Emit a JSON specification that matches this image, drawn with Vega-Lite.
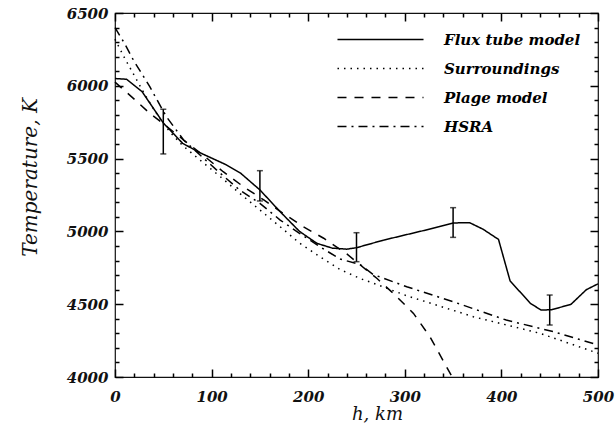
{
  "$schema": "https://vega.github.io/schema/vega-lite/v6.json",
  "autosize": "none",
  "width": 483,
  "height": 364,
  "padding": {"left": 115, "top": 13, "right": 18, "bottom": 53},
  "background": "white",
  "config": {
    "view": {"stroke": "#111", "strokeWidth": 1.2},
    "axis": {"grid": false, "domain": false, "labelColor": "#111", "titleColor": "#111"}
  },
  "datasets": {
    "curves": [
      {"s": "Flux tube model", "h": 0, "T": 6050}, {"s": "Flux tube model", "h": 12, "T": 6045},
      {"s": "Flux tube model", "h": 28, "T": 5960}, {"s": "Flux tube model", "h": 50, "T": 5745},
      {"s": "Flux tube model", "h": 70, "T": 5605}, {"s": "Flux tube model", "h": 88, "T": 5540},
      {"s": "Flux tube model", "h": 115, "T": 5458}, {"s": "Flux tube model", "h": 130, "T": 5400},
      {"s": "Flux tube model", "h": 150, "T": 5285}, {"s": "Flux tube model", "h": 171, "T": 5135},
      {"s": "Flux tube model", "h": 191, "T": 5000}, {"s": "Flux tube model", "h": 209, "T": 4918},
      {"s": "Flux tube model", "h": 225, "T": 4885}, {"s": "Flux tube model", "h": 240, "T": 4878},
      {"s": "Flux tube model", "h": 250, "T": 4888}, {"s": "Flux tube model", "h": 278, "T": 4940},
      {"s": "Flux tube model", "h": 319, "T": 5005}, {"s": "Flux tube model", "h": 350, "T": 5058},
      {"s": "Flux tube model", "h": 367, "T": 5060}, {"s": "Flux tube model", "h": 381, "T": 5015},
      {"s": "Flux tube model", "h": 397, "T": 4945}, {"s": "Flux tube model", "h": 409, "T": 4660},
      {"s": "Flux tube model", "h": 430, "T": 4506}, {"s": "Flux tube model", "h": 441, "T": 4460},
      {"s": "Flux tube model", "h": 452, "T": 4462}, {"s": "Flux tube model", "h": 472, "T": 4499},
      {"s": "Flux tube model", "h": 488, "T": 4600}, {"s": "Flux tube model", "h": 500, "T": 4640},

      {"s": "Surroundings", "h": 0, "T": 6320}, {"s": "Surroundings", "h": 10, "T": 6190},
      {"s": "Surroundings", "h": 20, "T": 6070}, {"s": "Surroundings", "h": 30, "T": 5950},
      {"s": "Surroundings", "h": 40, "T": 5840}, {"s": "Surroundings", "h": 50, "T": 5740},
      {"s": "Surroundings", "h": 60, "T": 5660}, {"s": "Surroundings", "h": 70, "T": 5590},
      {"s": "Surroundings", "h": 88, "T": 5490}, {"s": "Surroundings", "h": 109, "T": 5376},
      {"s": "Surroundings", "h": 129, "T": 5262}, {"s": "Surroundings", "h": 150, "T": 5147},
      {"s": "Surroundings", "h": 171, "T": 5032}, {"s": "Surroundings", "h": 191, "T": 4920},
      {"s": "Surroundings", "h": 212, "T": 4826}, {"s": "Surroundings", "h": 233, "T": 4738},
      {"s": "Surroundings", "h": 254, "T": 4676}, {"s": "Surroundings", "h": 267, "T": 4645},
      {"s": "Surroundings", "h": 302, "T": 4558}, {"s": "Surroundings", "h": 371, "T": 4414},
      {"s": "Surroundings", "h": 440, "T": 4300}, {"s": "Surroundings", "h": 500, "T": 4163},

      {"s": "Plage model", "h": 0, "T": 6025}, {"s": "Plage model", "h": 19, "T": 5914},
      {"s": "Plage model", "h": 36, "T": 5811}, {"s": "Plage model", "h": 54, "T": 5719},
      {"s": "Plage model", "h": 71, "T": 5628}, {"s": "Plage model", "h": 91, "T": 5525},
      {"s": "Plage model", "h": 112, "T": 5410}, {"s": "Plage model", "h": 133, "T": 5307},
      {"s": "Plage model", "h": 154, "T": 5216}, {"s": "Plage model", "h": 174, "T": 5124},
      {"s": "Plage model", "h": 195, "T": 5032}, {"s": "Plage model", "h": 216, "T": 4953},
      {"s": "Plage model", "h": 240, "T": 4845}, {"s": "Plage model", "h": 254, "T": 4769},
      {"s": "Plage model", "h": 271, "T": 4678}, {"s": "Plage model", "h": 288, "T": 4575},
      {"s": "Plage model", "h": 309, "T": 4437}, {"s": "Plage model", "h": 326, "T": 4277},
      {"s": "Plage model", "h": 349, "T": 4000},

      {"s": "HSRA", "h": 0, "T": 6400}, {"s": "HSRA", "h": 10, "T": 6290},
      {"s": "HSRA", "h": 19, "T": 6177}, {"s": "HSRA", "h": 36, "T": 5994},
      {"s": "HSRA", "h": 53, "T": 5790}, {"s": "HSRA", "h": 71, "T": 5628},
      {"s": "HSRA", "h": 88, "T": 5525}, {"s": "HSRA", "h": 109, "T": 5399},
      {"s": "HSRA", "h": 129, "T": 5284}, {"s": "HSRA", "h": 150, "T": 5193},
      {"s": "HSRA", "h": 171, "T": 5078}, {"s": "HSRA", "h": 191, "T": 4987},
      {"s": "HSRA", "h": 212, "T": 4895}, {"s": "HSRA", "h": 233, "T": 4810},
      {"s": "HSRA", "h": 254, "T": 4772}, {"s": "HSRA", "h": 267, "T": 4705},
      {"s": "HSRA", "h": 302, "T": 4620}, {"s": "HSRA", "h": 350, "T": 4517},
      {"s": "HSRA", "h": 405, "T": 4391}, {"s": "HSRA", "h": 454, "T": 4311},
      {"s": "HSRA", "h": 500, "T": 4220}
    ],
    "errors": [
      {"h": 50, "lo": 5532, "hi": 5839},
      {"h": 150, "lo": 5209, "hi": 5417},
      {"h": 250, "lo": 4792, "hi": 4991},
      {"h": 350, "lo": 4959, "hi": 5163},
      {"h": 450, "lo": 4357, "hi": 4563}
    ]
  },
  "resolve": {"axis": {"x": "independent", "y": "independent"}},
  "layer": [
    {
      "data": {"name": "curves"},
      "mark": {"type": "line", "color": "#000", "strokeWidth": 1.5},
      "encoding": {
        "x": {"field": "h", "type": "quantitative",
              "scale": {"domain": [0, 500], "nice": false, "zero": false},
              "axis": {"orient": "bottom", "values": [0, 100, 200, 300, 400, 500], "format": "d",
                       "offset": -8, "tickSize": 8, "tickColor": "black", "tickWidth": 1.5,
                       "labelPadding": 12, "labelFont": "DejaVu Serif", "labelFontSize": 15,
                       "labelFontStyle": "italic", "labelFontWeight": "bold", "labelFlush": false,
                       "title": "h, km", "titleFont": "DejaVu Serif", "titleFontSize": 18,
                       "titleFontStyle": "italic", "titleFontWeight": "normal",
                       "titleBaseline": "alphabetic", "titleX": 262, "titleY": 50}},
        "y": {"field": "T", "type": "quantitative",
              "scale": {"domain": [4000, 6500], "nice": false, "zero": false},
              "axis": {"orient": "left", "values": [4000, 4500, 5000, 5500, 6000, 6500], "format": "d",
                       "offset": -8, "tickSize": 8, "tickColor": "black", "tickWidth": 1.5,
                       "labelPadding": 7, "labelFont": "DejaVu Serif", "labelFontSize": 15,
                       "labelFontStyle": "italic", "labelFontWeight": "bold", "labelFlush": false,
                       "title": "Temperature, K", "titleFont": "DejaVu Serif", "titleFontSize": 20,
                       "titleFontStyle": "italic", "titleFontWeight": "normal",
                       "titleBaseline": "middle", "titleX": -93, "titleY": 164}},
        "strokeDash": {"field": "s", "type": "nominal",
                       "scale": {"domain": ["Flux tube model", "Surroundings", "Plage model", "HSRA"],
                                 "range": [[1, 0], [1.5, 5], [9, 8], [9, 5, 2, 5]]},
                       "legend": {"orient": "top-right", "offset": 17, "title": null,
                                  "symbolType": "M-5,0H5", "symbolSize": 296, "symbolStrokeWidth": 1.5,
                                  "symbolStrokeColor": "#000", "symbolFillColor": "transparent",
                                  "labelOffset": 54, "labelFontSize": 15, "labelFont": "DejaVu Serif",
                                  "labelFontStyle": "italic", "labelFontWeight": "bold", "labelColor": "#000",
                                  "rowPadding": 11, "padding": 0}}
      }
    },
    {
      "data": {"name": "errors"},
      "mark": {"type": "rule", "color": "#000", "strokeWidth": 1.5},
      "encoding": {
        "x": {"field": "h", "type": "quantitative",
              "scale": {"domain": [0, 500], "nice": false, "zero": false},
              "axis": {"orient": "bottom", "values": [20,40,60,80,120,140,160,180,220,240,260,280,320,340,360,380,420,440,460,480],
                       "offset": -4, "tickSize": 4, "tickColor": "black", "tickWidth": 1.5, "labels": false, "title": null}},
        "y": {"field": "lo", "type": "quantitative",
              "scale": {"domain": [4000, 6500], "nice": false, "zero": false},
              "axis": {"orient": "left", "values": [4100,4200,4300,4400,4600,4700,4800,4900,5100,5200,5300,5400,5600,5700,5800,5900,6100,6200,6300,6400],
                       "offset": -4, "tickSize": 4, "tickColor": "black", "tickWidth": 1.5, "labels": false, "title": null}},
        "y2": {"field": "hi"}
      }
    },
    {
      "data": {"name": "errors"},
      "mark": {"type": "tick", "orient": "horizontal", "color": "#000", "size": 6, "thickness": 1.5},
      "encoding": {
        "x": {"field": "h", "type": "quantitative",
              "scale": {"domain": [0, 500], "nice": false, "zero": false},
              "axis": {"orient": "top", "values": [0, 100, 200, 300, 400, 500], "offset": -8, "tickSize": 8, "tickColor": "black", "tickWidth": 1.5, "labels": false, "title": null}},
        "y": {"field": "lo", "type": "quantitative",
              "scale": {"domain": [4000, 6500], "nice": false, "zero": false},
              "axis": {"orient": "right", "values": [4000, 4500, 5000, 5500, 6000, 6500], "offset": -8, "tickSize": 8, "tickColor": "black", "tickWidth": 1.5, "labels": false, "title": null}}
      }
    },
    {
      "data": {"name": "errors"},
      "mark": {"type": "tick", "orient": "horizontal", "color": "#000", "size": 6, "thickness": 1.5},
      "encoding": {
        "x": {"field": "h", "type": "quantitative",
              "scale": {"domain": [0, 500], "nice": false, "zero": false},
              "axis": {"orient": "top", "values": [20,40,60,80,120,140,160,180,220,240,260,280,320,340,360,380,420,440,460,480],
                       "offset": -4, "tickSize": 4, "tickColor": "black", "tickWidth": 1.5, "labels": false, "title": null}},
        "y": {"field": "hi", "type": "quantitative",
              "scale": {"domain": [4000, 6500], "nice": false, "zero": false},
              "axis": {"orient": "right", "values": [4100,4200,4300,4400,4600,4700,4800,4900,5100,5200,5300,5400,5600,5700,5800,5900,6100,6200,6300,6400],
                       "offset": -4, "tickSize": 4, "tickColor": "black", "tickWidth": 1.5, "labels": false, "title": null}}
      }
    }
  ]
}
